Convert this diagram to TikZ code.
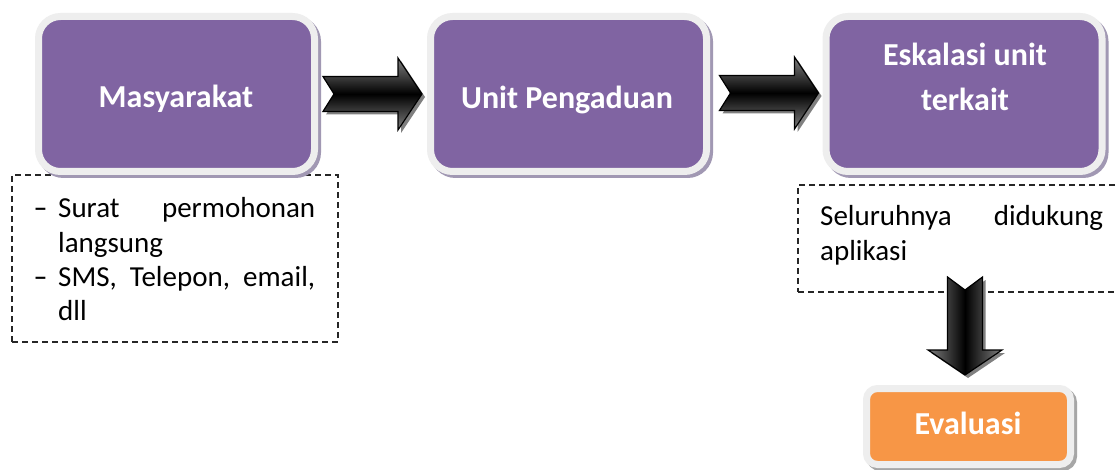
\documentclass[tikz,border=0pt]{standalone}
\usepackage{fontspec}
\usepackage{graphicx}
\setmainfont{Carlito}
\usetikzlibrary{calc}
\definecolor{purp}{HTML}{8064A2}
\definecolor{orng}{HTML}{F79646}
\definecolor{frm}{HTML}{EEEEEE}
\definecolor{shadp}{HTML}{A198B3}
\definecolor{shado}{HTML}{A6A6A6}
\newcommand{\dsh}{\makebox[24pt][l]{\scalebox{1.45}[1]{-}}}
\tikzset{
  box/.style={draw=frm, line width=7pt, fill=purp, rounded corners=22pt,
    minimum width=276pt, minimum height=155pt, inner sep=0pt,
    preaction={draw=shadp, fill=shadp, line width=7pt, transform canvas={shift={(3pt,-3pt)}}}},
  evbox/.style={draw=frm, line width=7pt, fill=orng, rounded corners=11pt,
    minimum width=204pt, minimum height=76pt, inner sep=0pt,
    preaction={draw=shado, fill=shado, line width=7pt, transform canvas={shift={(3pt,-3pt)}}}},
  dbox/.style={draw=black!85, line width=1.3pt, dash pattern=on 6pt off 4pt, inner sep=0pt},
  lbl/.style={text=white, font=\fontsize{32}{38}\selectfont\bfseries, inner sep=0pt},
  body/.style={text=black, font=\fontsize{29}{34}\selectfont, inner sep=0pt},
  arrowbody/.style={draw=black, line width=1.2pt, line join=miter},
  pics/harrow/.style={code={
    \fill[black!50] (-49.5+3,-17.5+3) -- (25.5+3,-17.5+3) -- (25.5+3,-36+3) -- (49.5+3,0+3) -- (25.5+3,36+3) -- (25.5+3,17.5+3) -- (-49.5+3,17.5+3) -- (-38.5+3,0+3) -- cycle;
    \path[arrowbody, top color=black!50, bottom color=black!50, middle color=black]
      (-49.5,-17.5) -- (25.5,-17.5) -- (25.5,-36) -- (49.5,0) -- (25.5,36) -- (25.5,17.5) -- (-49.5,17.5) -- (-38.5,0) -- cycle;
  }}
}
\begin{document}
\begin{tikzpicture}[x=1pt,y=-1pt]
\useasboundingbox[fill=white] (0,0) rectangle (1118,470);

% dashed boxes
\node[dbox, minimum width=326pt, minimum height=167pt] (d1) at (175,258.5) {};
\node[dbox, minimum width=330pt, minimum height=107pt] (d2) at (963,238.5) {};

% main boxes
\node[box] (b1) at (176.5,94) {};
\node[box] (b2) at (568.5,94) {};
\node[box] (b3) at (964,94) {};
\node[evbox] (ev) at (968.5,426.5) {};

% labels
\node[lbl, anchor=base] (t1) at (176,108) {Masyarakat};
\node[lbl, anchor=base] (t2) at (567,109) {Unit Pengaduan};
\node[lbl, anchor=base] (t3a) at (965,66) {Eskalasi unit};
\node[lbl, anchor=base] (t3b) at (965,111) {terkait};
\node[lbl, anchor=base] (t4) at (968,434) {Evaluasi};

% body text
\node[body, anchor=base west] (l1) at (34,218) {\dsh\makebox[257pt]{Surat\hfill permohonan}};
\node[body, anchor=base west] (l2) at (58,252) {langsung};
\node[body, anchor=base west] (l3) at (34,286) {\dsh\makebox[257pt]{SMS,\hfill Telepon,\hfill email,}};
\node[body, anchor=base west] (l4) at (58,320) {dll};
\node[body, anchor=base west] (s1) at (820,226) {\makebox[283pt]{Seluruhnya\hfill didukung}};
\node[body, anchor=base west] (s2) at (820,260) {aplikasi};

% block arrows between boxes
\path ($(b1.east)!0.5!(b2.west)$) pic {harrow};
\path (769,93) pic {harrow};

% down arrow
\fill[black!50] (950.5,280) -- (968,293) -- (985.5,280) -- (985.5,353) -- (1005,353) -- (968,378) -- (931,353) -- (950.5,353) -- cycle;
\path[arrowbody, left color=black!50, right color=black!50, middle color=black]
  (947.5,277) -- (965,290) -- (982.5,277) -- (982.5,350) -- (1002,350) -- (965,375) -- (928,350) -- (947.5,350) -- cycle;
\end{tikzpicture}
\end{document}
